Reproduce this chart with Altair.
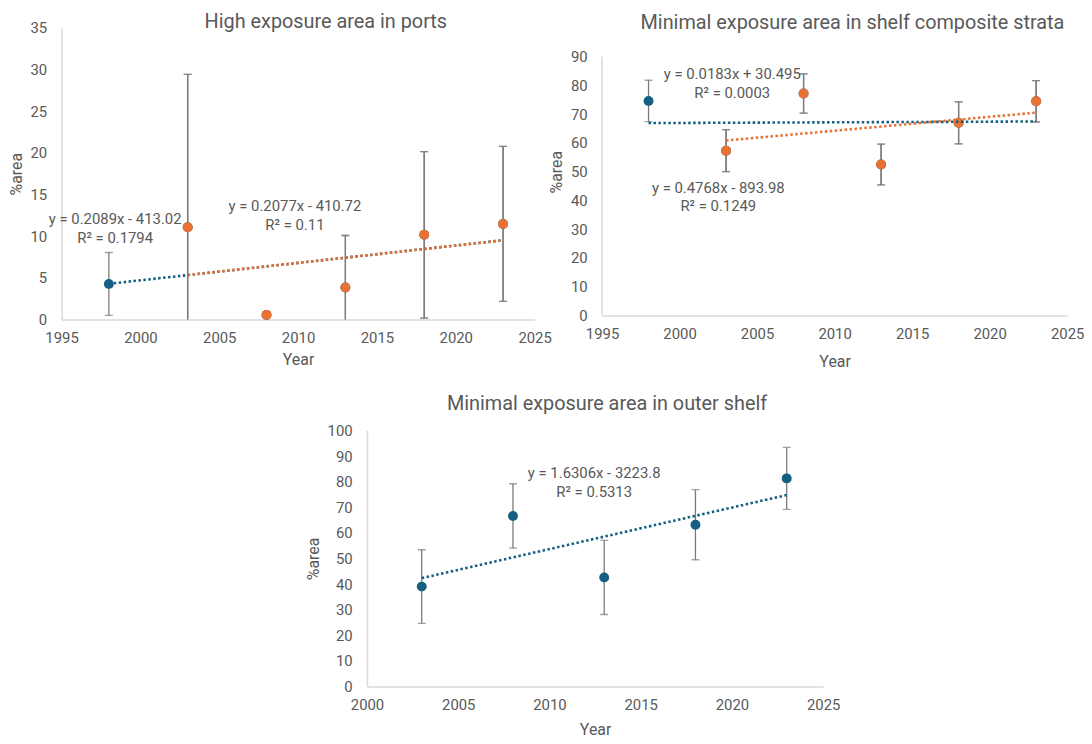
import altair as alt
import pandas as pd

BLUE = "#156082"
ORANGE = "#E97132"
TXT = "#595959"
ERRC = "#7a7a7a"
AXC = "#d9d9d9"
FONT = "Roboto"

# ---------------- data ----------------
# Panel 1: High exposure area in ports
ports_years = [1998, 2003, 2008, 2013, 2018, 2023]
ports_value = [4.27, 11.07, 0.55, 3.84, 10.16, 11.47]
ports_err = [3.77, 18.35, 0.0, 6.24, 10.0, 9.3]
ports_b_start = 1  # second series starts at 2003

# Panel 2: Minimal exposure area in shelf composite strata
shelf_years = [1998, 2003, 2008, 2013, 2018, 2023]
shelf_value = [74.6, 57.3, 77.2, 52.5, 67.0, 74.5]
shelf_err = [7.2, 7.3, 6.8, 7.1, 7.3, 7.2]
shelf_b_start = 1

# Panel 3: Minimal exposure area in outer shelf
outer_years = [2003, 2008, 2013, 2018, 2023]
outer_value = [39.0, 66.6, 42.6, 63.2, 81.3]
outer_err = [14.4, 12.6, 14.5, 13.7, 12.1]

# Trendline equation labels (text, anchor year, anchor value)
ports_eq_text = ["y = 0.2089x - 413.02", "R\u00b2 = 0.1794", "y = 0.2077x - 410.72", "R\u00b2 = 0.11"]
ports_eq_year = [1998.4, 1998.4, 2009.8, 2009.8]
ports_eq_val = [12.0, 9.76, 13.57, 11.3]

shelf_eq_text = ["y = 0.0183x + 30.495", "R\u00b2 = 0.0003", "y = 0.4768x - 893.98", "R\u00b2 = 0.1249"]
shelf_eq_year = [2003.4, 2003.4, 2002.5, 2002.5]
shelf_eq_val = [83.9, 77.4, 44.2, 37.9]

outer_eq_text = ["y = 1.6306x - 3223.8", "R\u00b2 = 0.5313"]
outer_eq_year = [2012.45, 2012.45]
outer_eq_val = [83.2, 75.9]

ports_yticks = [0, 5, 10, 15, 20, 25, 30, 35]
shelf_yticks = [0, 10, 20, 30, 40, 50, 60, 70, 80, 90]
outer_yticks = [0, 10, 20, 30, 40, 50, 60, 70, 80, 90, 100]


def series_frame(years, values, errs, b_start=None):
    rows = []
    for yr, v, e in zip(years, values, errs):
        rows.append({"series": "A", "year": yr, "value": v, "err": e})
    if b_start is not None:
        for yr, v, e in zip(years[b_start:], values[b_start:], errs[b_start:]):
            rows.append({"series": "B", "year": yr, "value": v, "err": e})
    return pd.DataFrame(rows)


def panel(df, ann, title, xdom, ydom, yticks, width, height, dx, toffset,
          xtitlepad, axis_top=None):
    xscale = alt.Scale(domain=xdom, nice=False, zero=False)
    yscale = alt.Scale(domain=ydom, nice=False)
    xaxis = alt.Axis(values=list(range(xdom[0], xdom[1] + 1, 5)), format="d",
                     title="Year", titlePadding=xtitlepad, labelFlush=False)
    yaxis = alt.Axis(values=yticks, title="%area", domain=(axis_top is None))
    x = alt.X("year:Q", scale=xscale, axis=xaxis)
    color = alt.Color("series:N", scale=alt.Scale(domain=["A", "B"], range=[BLUE, ORANGE]),
                      legend=None)
    base = alt.Chart(df)
    eb = base.transform_calculate(lo="datum.value - datum.err", hi="datum.value + datum.err")
    rule = eb.mark_rule(color=ERRC, strokeWidth=1.3, clip=True).encode(
        x=x, y=alt.Y("lo:Q", scale=yscale, axis=yaxis), y2="hi:Q")
    cap_lo = eb.mark_tick(orient="horizontal", size=8, thickness=1.3, color=ERRC, clip=True).encode(
        x=x, y=alt.Y("lo:Q", scale=yscale, axis=yaxis))
    cap_hi = eb.mark_tick(orient="horizontal", size=8, thickness=1.3, color=ERRC, clip=True).encode(
        x=x, y=alt.Y("hi:Q", scale=yscale, axis=yaxis))
    pts = base.mark_circle(size=100, opacity=1).encode(
        x=x, y=alt.Y("value:Q", scale=yscale, axis=yaxis), color=color)
    trend = base.transform_regression("year", "value", groupby=["series"]).mark_line(
        strokeDash=[2.5, 2.5], strokeWidth=2.6).encode(
        x=x, y=alt.Y("value:Q", scale=yscale, axis=yaxis), color=color)
    txt = alt.Chart(ann).mark_text(font=FONT, fontSize=15, color=TXT, align="center",
                                   baseline="middle").encode(
        x=x, y=alt.Y("value:Q", scale=yscale, axis=yaxis), text="label:N")
    layers = [rule, cap_lo, cap_hi, pts, trend, txt]
    if axis_top is not None:
        axdf = pd.DataFrame({"lo": [yticks[0]], "hi": [axis_top]})
        axl = alt.Chart(axdf).mark_rule(color=AXC, strokeWidth=1.5).encode(
            x=alt.value(0), y=alt.Y("lo:Q", scale=yscale, axis=yaxis), y2="hi:Q")
        layers.insert(0, axl)
    return alt.layer(*layers).properties(
        width=width, height=height,
        title=alt.TitleParams(title, dx=dx, offset=toffset, frame="group", font=FONT,
                              fontSize=20, fontWeight="normal", color=TXT))


def ann_frame(texts, years, vals):
    return pd.DataFrame({"label": texts, "year": years, "value": vals})


p1 = panel(series_frame(ports_years, ports_value, ports_err, ports_b_start),
           ann_frame(ports_eq_text, ports_eq_year, ports_eq_val),
           "High exposure area in ports", [1995, 2025], [0, 35], ports_yticks,
           477, 294, 28, -11, 6)
p2 = panel(series_frame(shelf_years, shelf_value, shelf_err, shelf_b_start),
           ann_frame(shelf_eq_text, shelf_eq_year, shelf_eq_val),
           "Minimal exposure area in shelf composite strata", [1995, 2025], [0, 100],
           shelf_yticks, 469, 290, 18, -5, 12, axis_top=90)
p3 = panel(series_frame(outer_years, outer_value, outer_err),
           ann_frame(outer_eq_text, outer_eq_year, outer_eq_val),
           "Minimal exposure area in outer shelf", [2000, 2025], [0, 100], outer_yticks,
           460, 258, 12, 10, 10)

spacer = alt.Chart(pd.DataFrame({"year": [0]})).mark_point(opacity=0).encode(
    x=alt.X("year:Q", axis=None), y=alt.Y("year:Q", axis=None)).properties(width=245, height=10)

row1 = alt.hconcat(p1, p2, spacing=-3)
row2 = alt.hconcat(spacer, p3, spacing=0)

chart = alt.vconcat(row1, row2, spacing=25).properties(
    padding={"left": 0, "top": 1, "right": 0, "bottom": 0}
).configure_view(stroke=None).configure_axis(
    grid=False, ticks=False, tickSize=0, domainColor=AXC, domainWidth=1.5,
    labelColor=TXT, labelFont=FONT, labelFontSize=15, titleColor=TXT, titleFont=FONT,
    titleFontSize=16, titleFontWeight="normal"
).configure_axisX(labelPadding=11).configure_axisY(labelPadding=15, titlePadding=6)

chart.save("out.html", embed_options={"renderer": "svg", "actions": False})
